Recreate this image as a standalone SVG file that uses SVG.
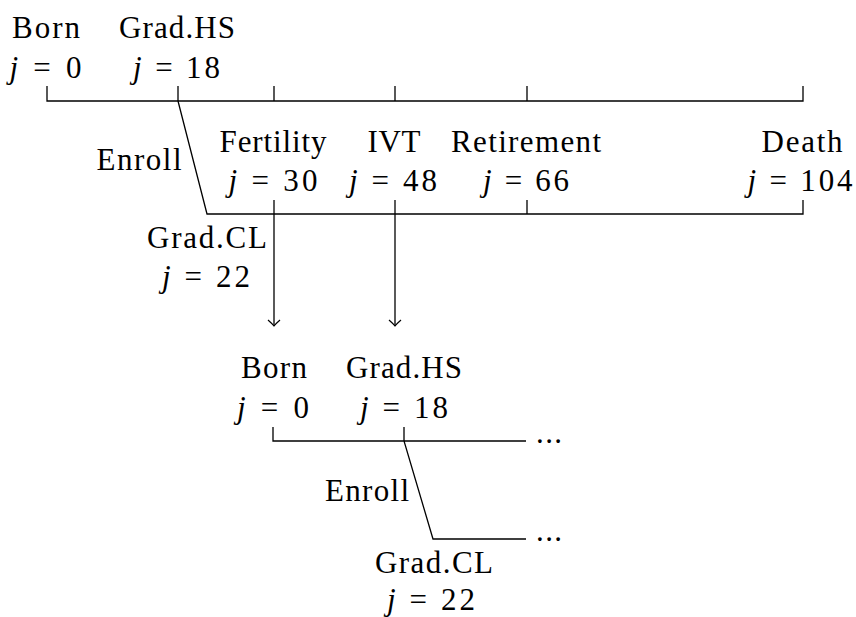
<svg xmlns="http://www.w3.org/2000/svg" width="856" height="617" viewBox="0 0 856 617">
<style>
text{font-family:'Liberation Serif','DejaVu Serif',serif;font-size:31px;fill:#000;text-anchor:middle}
.m{font-style:italic}
.ln{fill:none;stroke:#000;stroke-width:1.3}
</style>
<defs>
<marker id="ar" viewBox="-7 -7 9 14" markerWidth="9" markerHeight="14" refX="0" refY="0" orient="auto" markerUnits="userSpaceOnUse">
<path d="M-6,-6 Q-2.5,-2 0,0 Q-2.5,2 -6,6" fill="none" stroke="#000" stroke-width="1.2"/>
</marker>
</defs>
<rect width="856" height="617" fill="#fff"/>
<g id="connectors">
<path class="ln" d="M47,86 V101 H803 V86"/>
<path class="ln" d="M178,86 V101 M274,86 V101 M395,86 V101 M527,86 V101"/>
<path class="ln" d="M178,101 L207,214 H803 V200 M527,200 V214"/>
<path class="ln" d="M274,200 V326" marker-end="url(#ar)"/>
<path class="ln" d="M395,200 V326" marker-end="url(#ar)"/>
<path class="ln" d="M273,427 V441 H526 M404,427 V441 L433,539 H526"/>
</g>
<g id="born1"><text x="46" y="38" textLength="68">Born</text><text x="45.5" y="78" textLength="72"><tspan class="m">j</tspan> = 0</text></g>
<g id="gradhs1"><text x="177" y="38" textLength="116">Grad.HS</text><text x="176.5" y="78" textLength="87"><tspan class="m">j</tspan> = 18</text></g>
<g id="enroll1"><text x="139" y="170" textLength="85">Enroll</text></g>
<g id="fertility"><text x="273" y="152" textLength="107">Fertility</text><text x="273" y="191" textLength="89"><tspan class="m">j</tspan> = 30</text></g>
<g id="ivt"><text x="394" y="152" textLength="53">IVT</text><text x="393" y="191" textLength="88"><tspan class="m">j</tspan> = 48</text></g>
<g id="retirement"><text x="526" y="152" textLength="150">Retirement</text><text x="526" y="191" textLength="86"><tspan class="m">j</tspan> = 66</text></g>
<g id="death"><text x="802" y="152" textLength="81">Death</text><text x="800" y="191" textLength="105"><tspan class="m">j</tspan> = 104</text></g>
<g id="gradcl1"><text x="207" y="248" textLength="120">Grad.CL</text><text x="206" y="287" textLength="88"><tspan class="m">j</tspan> = 22</text></g>
<g id="born2"><text x="274" y="378" textLength="66">Born</text><text x="273" y="418" textLength="72"><tspan class="m">j</tspan> = 0</text></g>
<g id="gradhs2"><text x="404" y="378" textLength="116">Grad.HS</text><text x="404" y="418" textLength="88"><tspan class="m">j</tspan> = 18</text></g>
<g id="dots1"><text x="549" y="443" textLength="26">...</text></g>
<g id="enroll2"><text x="367" y="501" textLength="84">Enroll</text></g>
<g id="dots2"><text x="549" y="541" textLength="26">...</text></g>
<g id="gradcl2"><text x="434" y="573" textLength="118">Grad.CL</text><text x="431" y="610" textLength="88"><tspan class="m">j</tspan> = 22</text></g>
</svg>
